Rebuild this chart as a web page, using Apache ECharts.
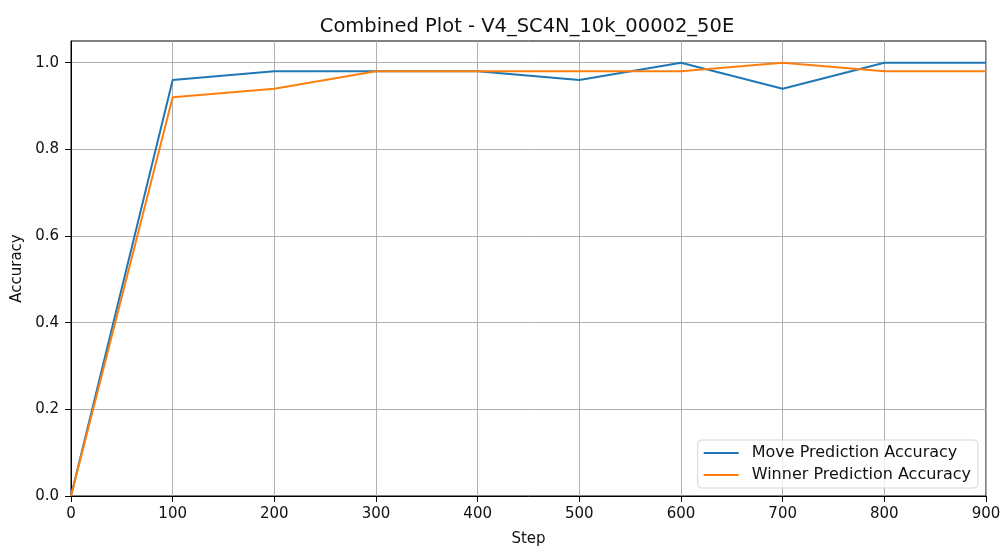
<!DOCTYPE html>
<html>
<head>
<meta charset="utf-8">
<script src="https://cdn.jsdelivr.net/npm/echarts@6/dist/echarts.min.js"></script>
<style>
html,body{margin:0;padding:0;background:#fff;}
#chart{width:1003px;height:546px;}
</style>
</head>
<body>
<div id="chart"></div>
<script>
// Evaluation steps and accuracies
const steps = [0, 100, 200, 300, 400, 500, 600, 700, 800, 900];
const moveAccuracy = [0.0, 0.96, 0.98, 0.98, 0.98, 0.96, 1.0, 0.94, 1.0, 1.0];
const winnerAccuracy = [0.0, 0.92, 0.94, 0.98, 0.98, 0.98, 0.98, 1.0, 0.98, 0.98];
const seriesNames = ['Move Prediction Accuracy', 'Winner Prediction Accuracy'];

const font = 'DejaVu Sans';
const chart = echarts.init(document.getElementById('chart'), null, {renderer: 'canvas'});

const pairs = arr => steps.map((s, i) => [s, arr[i]]);

chart.setOption({
  animation: false,
  backgroundColor: '#ffffff',
  title: {
    text: 'Combined Plot - V4_SC4N_10k_00002_50E',
    left: 522, top: 12, textAlign: 'center',
    textStyle: {fontFamily: font, fontSize: 19.5, fontWeight: 'normal', color: '#111'}
  },
  grid: {
    left: 71, right: 17, top: 41, bottom: 50,
    outerBoundsMode: 'none', containLabel: false,
    show: true, borderColor: '#000', borderWidth: 1, backgroundColor: 'transparent'
  },
  legend: {
    orient: 'vertical',
    right: 25, bottom: 58,
    backgroundColor: 'rgba(255,255,255,0.8)',
    borderColor: '#d6d6d6', borderWidth: 1, borderRadius: 4,
    padding: [5, 7, 5, 6],
    itemGap: 6,
    itemWidth: 35, itemHeight: 2,
    icon: 'rect',
    textStyle: {fontFamily: font, fontSize: 16, color: '#111', padding: [0, 0, 0, 8]},
    data: seriesNames
  },
  xAxis: {
    type: 'value', min: 0, max: 900, interval: 100,
    name: 'Step', nameLocation: 'middle', nameGap: 36,
    nameTextStyle: {fontFamily: font, fontSize: 15, color: '#111'},
    axisLine: {show: true, lineStyle: {color: '#000', width: 1}},
    axisTick: {show: true, length: 6, lineStyle: {color: '#000'}},
    axisLabel: {fontFamily: font, fontSize: 15, color: '#111', margin: 11},
    splitLine: {show: true, lineStyle: {color: '#b0b0b0', width: 1}}
  },
  yAxis: {
    type: 'value', min: 0, max: 1.05, interval: 0.2,
    name: 'Accuracy', nameLocation: 'middle', nameGap: 46, nameRotate: 90,
    nameTextStyle: {fontFamily: font, fontSize: 15, color: '#111'},
    axisLine: {show: true, lineStyle: {color: '#000', width: 1}},
    axisTick: {show: true, length: 6, lineStyle: {color: '#000'}},
    axisLabel: {
      fontFamily: font, fontSize: 15, color: '#111', margin: 12,
      showMaxLabel: false,
      formatter: v => v.toFixed(1)
    },
    splitLine: {show: true, showMaxLine: false, lineStyle: {color: '#b0b0b0', width: 1}}
  },
  series: [
    {
      name: seriesNames[0], type: 'line', data: pairs(moveAccuracy),
      showSymbol: false, symbol: 'none',
      lineStyle: {color: '#1f77b4', width: 2}, itemStyle: {color: '#1f77b4'}
    },
    {
      name: seriesNames[1], type: 'line', data: pairs(winnerAccuracy),
      showSymbol: false, symbol: 'none',
      lineStyle: {color: '#ff7f0e', width: 2}, itemStyle: {color: '#ff7f0e'}
    }
  ]
});
</script>
</body>
</html>
